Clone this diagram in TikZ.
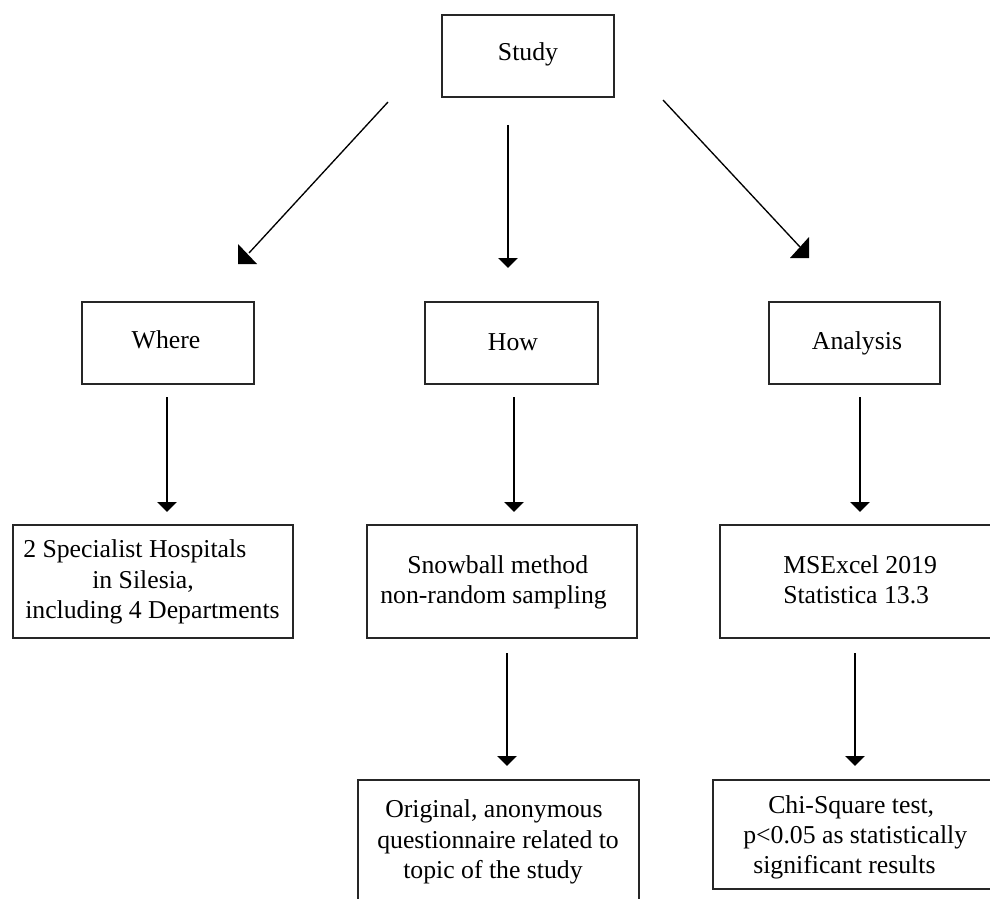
\documentclass[tikz,border=0pt]{standalone}
\usepackage{fontspec}
\setmainfont{Liberation Serif}
\usetikzlibrary{arrows.meta,fit}
\begin{document}
\begin{tikzpicture}[x=0.75pt,y=-0.75pt,
  box/.style={draw=black!85,line width=1.1pt,inner sep=0pt},
  txt/.style={inner sep=0pt,font=\fontsize{19.3pt}{23pt}\selectfont,anchor=base west},
  ctxt/.style={txt,anchor=base},
  arr/.style={line width=1pt,-{Triangle[width=14.5pt,length=7.5pt]}},
  ln/.style={line width=1pt}]
\useasboundingbox (0,0) rectangle (990,899);
\clip (0,0) rectangle (990,899);

% boxes
\node[box,fit={(442,15)(614,97)}] (study) {};
\node[box,fit={(82,302)(254,384)}] (where) {};
\node[box,fit={(425,302)(598,384)}] (how) {};
\node[box,fit={(769,302)(940,384)}] (analysis) {};
\node[box,fit={(13,525)(293,638)}] (spec) {};
\node[box,fit={(367,525)(637,638)}] (snow) {};
\node[box,fit={(720,525)(1010,638)}] (excel) {};
\node[box,fit={(358,780)(639,930)}] (orig) {};
\node[box,fit={(713,780)(1010,889)}] (chi) {};

% texts
\node[ctxt] (tstudy) at (528,61) {Study};
\node[ctxt] (twhere) at (166,348) {Where};
\node[ctxt] (thow) at (513,350) {How};
\node[ctxt] (tanalysis) at (857,349) {Analysis};

\node[txt] (tspec1) at (23,557) {2 Specialist Hospitals};
\node[txt] (tspec2) at (92,588) {in Silesia,};
\node[txt] (tspec3) at (25,618) {including 4 Departments};

\node[txt] (tsnow1) at (407,573) {Snowball method};
\node[txt] (tsnow2) at (380,603) {non-random sampling};

\node[txt] (texcel1) at (783,573) {MSExcel 2019};
\node[txt] (texcel2) at (783,603) {Statistica 13.3};

\node[txt] (torig1) at (385,817) {Original, anonymous};
\node[txt] (torig2) at (377,848) {questionnaire related to};
\node[txt] (torig3) at (403,878) {topic of the study};

\node[txt] (tchi1) at (768,813) {Chi-Square test,};
\node[txt] (tchi2) at (743,843) {p<0.05 as statistically};
\node[txt] (tchi3) at (753,873) {significant results};

% diagonal arrows from Study
\coordinate (dl1) at (388,102);
\coordinate (dl2) at (249,253);
\draw[ln] (dl1) -- (dl2);
\coordinate (tl1) at (238,244);
\coordinate (tl2) at (238,264);
\coordinate (tl3) at (257,264);
\fill (tl1) -- (tl2) -- (tl3) -- cycle;

\coordinate (dm1) at (508,125);
\coordinate (dm2) at (508,268);
\draw[arr] (dm1) -- (dm2);

\coordinate (dr1) at (663,100);
\coordinate (dr2) at (800,247);
\draw[ln] (dr1) -- (dr2);
\coordinate (tr1) at (809,237);
\coordinate (tr2) at (809,258);
\coordinate (tr3) at (790,258);
\fill (tr1) -- (tr2) -- (tr3) -- cycle;

% vertical arrows
\coordinate (a1s) at (167,397); \coordinate (a1e) at (167,512);
\draw[arr] (a1s) -- (a1e);
\coordinate (a2s) at (514,397); \coordinate (a2e) at (514,512);
\draw[arr] (a2s) -- (a2e);
\coordinate (a3s) at (860,397); \coordinate (a3e) at (860,512);
\draw[arr] (a3s) -- (a3e);
\coordinate (a4s) at (507,653); \coordinate (a4e) at (507,766);
\draw[arr] (a4s) -- (a4e);
\coordinate (a5s) at (855,653); \coordinate (a5e) at (855,766);
\draw[arr] (a5s) -- (a5e);
\end{tikzpicture}
\end{document}
